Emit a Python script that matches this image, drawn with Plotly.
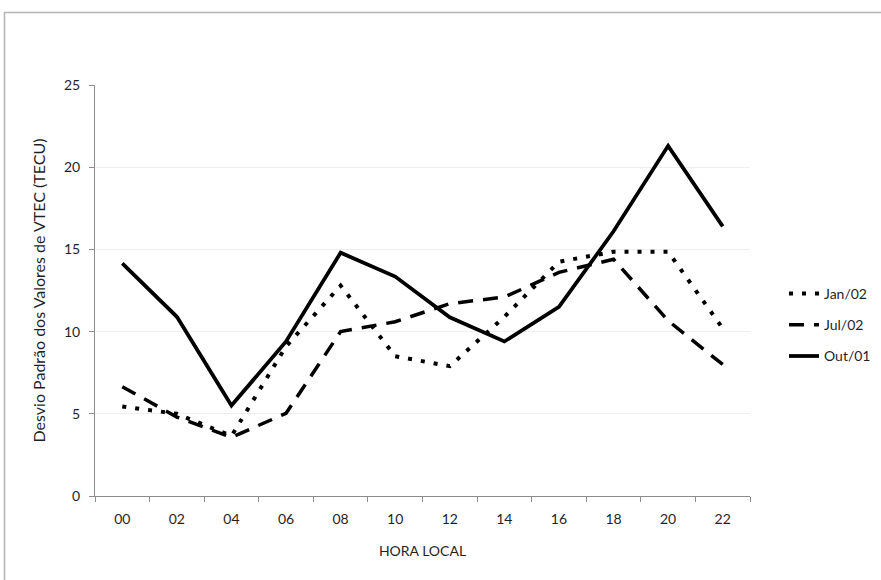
import plotly.graph_objects as go

hours = ["00", "02", "04", "06", "08", "10", "12", "14", "16", "18", "20", "22"]
jan02 = [5.45, 5.0, 3.65, 9.1, 12.8, 8.5, 7.9, 10.9, 14.25, 14.86, 14.86, 10.2]
jul02 = [6.65, 4.8, 3.57, 5.03, 10.0, 10.6, 11.7, 12.1, 13.6, 14.4, 10.66, 8.0]
out01 = [14.15, 10.9, 5.5, 9.4, 14.8, 13.35, 10.87, 9.4, 11.5, 16.1, 21.3, 16.4]
y_ticks = [0, 5, 10, 15, 20, 25]

FONT = "Lato, 'Open Sans', sans-serif"
TXT = "#1f1f2a"

fig = go.Figure()
fig.add_trace(go.Scatter(x=hours, y=jan02, mode="lines", name="Jan/02", legendgroup="a",
                         line=dict(color="black", width=4, dash="4px,9px")))
fig.add_trace(go.Scatter(x=hours, y=jul02, mode="lines", name="Jul/02", legendgroup="b",
                         line=dict(color="black", width=3.5, dash="15px,10px")))
fig.add_trace(go.Scatter(x=hours, y=out01, mode="lines", name="Out/01", legendgroup="c",
                         line=dict(color="black", width=3.75)))

W, H = 881, 580
L, R, T, B = 95, 131, 85, 84
pw, ph = W - L - R, H - T - B

def px_to_paper_x(px):
    return (px - L) / pw

def px_to_paper_y(py):
    return (H - B - py) / ph

fig.update_layout(
    width=W, height=H,
    margin=dict(l=L, r=R, t=T, b=B, autoexpand=False),
    paper_bgcolor="white", plot_bgcolor="white",
    font=dict(family=FONT, size=14, color=TXT),
    showlegend=True,
    legend=dict(x=px_to_paper_x(784), y=px_to_paper_y(325), xanchor="left", yanchor="middle",
                traceorder="grouped", tracegroupgap=10, font=dict(size=14, color=TXT),
                bgcolor="rgba(0,0,0,0)"),
    xaxis=dict(type="category", range=[-0.5, 11.5], showline=True, linecolor="#8c8c8c", linewidth=1,
               ticks="outside", ticklen=5, tickcolor="#8c8c8c", tickson="boundaries",
               ticklabelstandoff=10,
               showgrid=False, zeroline=False,
               title=dict(text="HORA LOCAL", font=dict(size=14), standoff=20),
               tickfont=dict(size=14)),
    yaxis=dict(range=[0, 25], tickvals=y_ticks, showline=True, linecolor="#8c8c8c", linewidth=1,
               ticks="outside", ticklen=5, tickcolor="#8c8c8c", ticklabelstandoff=6,
               showgrid=True, gridcolor="#efefef", gridwidth=1, zeroline=False,
               title=dict(text="Desvio Padrão dos Valores de VTEC (TECU)", font=dict(size=16), standoff=14),
               tickfont=dict(size=14)),
)

# outer chart frame
fig.add_shape(type="rect", xref="paper", yref="paper",
              x0=px_to_paper_x(4.5), x1=px_to_paper_x(W + 5),
              y0=px_to_paper_y(H + 5), y1=px_to_paper_y(12.5),
              line=dict(color="#b3b3b3", width=1.5), fillcolor="rgba(0,0,0,0)", layer="below")

fig.write_html("out.html", config={"displayModeBar": False},
               post_script="document.body.style.margin='0';")
